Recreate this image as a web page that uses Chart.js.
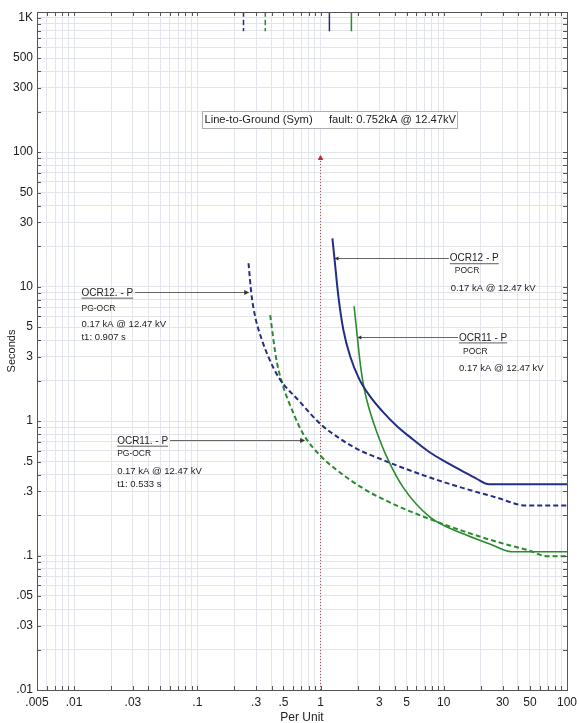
<!DOCTYPE html>
<html>
<head>
<meta charset="utf-8">
<script src="https://cdn.jsdelivr.net/npm/chart.js@4.4.1/dist/chart.umd.min.js"></script>
<style>
  html, body { margin: 0; padding: 0; background: #fff; }
  #wrap { width: 579px; height: 723px; }
</style>
</head>
<body>
<div id="wrap"><canvas id="tcc" width="579" height="723"></canvas></div>
<script>
// Curvas (per unit / segundos)
const ocr12PocrPU  = [1.248, 1.297, 1.397, 1.534, 1.738, 2.066, 2.523, 3.234, 4.153, 5.628, 7.73, 10.61, 14.39, 18.24, 23.37, 100];
const ocr12PocrSec = [22.8, 16.2, 8.38, 4.73, 3.03, 2.042, 1.525, 1.159, 0.919, 0.7293, 0.5834, 0.4914, 0.4212, 0.3748, 0.3387, 0.3387];

const ocr11PocrPU  = [1.872, 1.991, 2.113, 2.256, 2.476, 2.821, 3.446, 4.697, 7.73, 14.39, 23.66, 35.49, 100];
const ocr11PocrSec = [7.14, 4.169, 2.552, 1.750, 1.241, 0.8568, 0.5410, 0.3195, 0.1929, 0.1449, 0.1218, 0.1066, 0.1066];

const ocr12PgPU  = [0.2604, 0.274, 0.295, 0.335, 0.378, 0.456, 0.6834, 0.993, 1.442, 2.094, 3.04, 4.153, 7.73, 14.4, 26.8, 47.0, 100];
const ocr12PgSec = [14.9, 8.98, 5.95, 3.99, 2.99, 2.12, 1.383, 0.955, 0.738, 0.604, 0.524, 0.467, 0.380, 0.317, 0.270, 0.235, 0.235];

const ocr11PgPU  = [0.3905, 0.415, 0.4424, 0.4858, 0.6031, 0.7268, 0.993, 1.356, 2.227, 4.153, 7.73, 14.4, 26.8, 49.9, 68.2, 100];
const ocr11PgSec = [6.12, 3.99, 2.734, 1.939, 1.139, 0.795, 0.554, 0.432, 0.3147, 0.235, 0.1864, 0.1518, 0.1267, 0.1086, 0.0988, 0.0988];

// marcas de arranque arriba del gráfico
const pickupPU = [0.237, 0.356, 1.18, 1.78];
const pickupTop = 1100;
const pickupBottom = 790;

// línea de falla
const faultPU = 1;
const faultSec = [0.01, 90];

// ejes
const xLabelValues = [0.005, 0.01, 0.03, 0.1, 0.3, 0.5, 1, 3, 5, 10, 30, 50, 100];
const xLabelTexts  = ['.005', '.01', '.03', '.1', '.3', '.5', '1', '3', '5', '10', '30', '50', '100'];
const yLabelValues = [0.01, 0.03, 0.05, 0.1, 0.3, 0.5, 1, 3, 5, 10, 30, 50, 100, 300, 500, 1000];
const yLabelTexts  = ['.01', '.03', '.05', '.1', '.3', '.5', '1', '3', '5', '10', '30', '50', '100', '300', '500', '1K'];

const NAVY = '#242d85';
const GREEN = '#2b8a2e';
const FONT = '"Liberation Sans", Arial, sans-serif';

function gridValues(minExp, maxExp, min, max) {
    const vals = [];
    for (let e = minExp; e <= maxExp; e++) {
        for (let m = 1; m <= 9; m++) {
            const v = parseFloat((m * Math.pow(10, e)).toPrecision(6));
            if (v >= min * 0.999 && v <= max * 1.001) vals.push(v);
        }
    }
    return vals;
}
const xGrid = gridValues(-3, 2, 0.005, 100);
const yGrid = gridValues(-2, 3, 0.01, 1000);

function labelFor(values, texts, v) {
    for (let i = 0; i < values.length; i++) {
        if (Math.abs(v / values[i] - 1) < 1e-6) return texts[i];
    }
    return '';
}

function curve(pu, sec) {
    return pu.map((p, i) => ({ x: p, y: sec[i] }));
}

// Etiquetas de los relés
const labels = [
    { title: 'OCR12 - P', sub: 'POCR', lines: ['0.17 kA @ 12.47 kV'], at: [11.2, 16.1], target: 1.297, side: 'right',
      subDx: 5, lineDx: 1, offsets: [12, 30] },
    { title: 'OCR11 - P', sub: 'POCR', lines: ['0.17 kA @ 12.47 kV'], at: [13.3, 4.15], target: 1.99, side: 'right',
      subDx: 4, lineDx: 0, offsets: [13.5, 30] },
    { title: 'OCR12. - P', sub: 'PG-OCR', lines: ['0.17 kA @ 12.47 kV', 't1: 0.907 s'], at: [0.01148, 8.93], target: 0.264, side: 'left',
      subDx: 0, lineDx: 0, offsets: [16, 31, 44] },
    { title: 'OCR11. - P', sub: 'PG-OCR', lines: ['0.17 kA @ 12.47 kV', 't1: 0.533 s'], at: [0.02235, 0.708], target: 0.75, side: 'left',
      subDx: 0, lineDx: 0, offsets: [12.5, 30, 43] }
];

const faultBox = { left: 0.109, right: 12.8, y: 174, textA: 'Line-to-Ground (Sym)', textB: 'fault: 0.752kA @ 12.47kV', textBx: 1.17 };

function seg(ctx, x1, y1, x2, y2) {
    ctx.beginPath();
    ctx.moveTo(x1, y1);
    ctx.lineTo(x2, y2);
    ctx.stroke();
}

const tccPlugin = {
    id: 'tcc',
    afterDatasetsDraw(chart) {
        const ctx = chart.ctx;
        const xs = chart.scales.x, ys = chart.scales.y;
        const a = chart.chartArea;
        ctx.save();

        // marco y marcas interiores
        ctx.strokeStyle = '#555';
        ctx.lineWidth = 1;
        ctx.strokeRect(Math.round(a.left) + 0.5, Math.round(a.top) + 0.5, Math.round(a.right - a.left), Math.round(a.bottom - a.top));
        xGrid.forEach(v => {
            const px = Math.round(xs.getPixelForValue(v)) + 0.5;
            seg(ctx, px, a.bottom, px, a.bottom - 4);
            seg(ctx, px, a.top, px, a.top + 4);
        });
        yGrid.forEach(v => {
            const py = Math.round(ys.getPixelForValue(v)) + 0.5;
            seg(ctx, a.left, py, a.left + 4, py);
            seg(ctx, a.right, py, a.right - 4, py);
        });

        // recuadro de la falla
        const bx1 = xs.getPixelForValue(faultBox.left);
        const bx2 = xs.getPixelForValue(faultBox.right);
        const by = ys.getPixelForValue(faultBox.y);
        ctx.fillStyle = '#fff';
        ctx.fillRect(bx1, by - 8.5, bx2 - bx1, 17);
        ctx.strokeStyle = '#b0b0b0';
        ctx.strokeRect(Math.round(bx1) + 0.5, Math.round(by - 8.5) + 0.5, Math.round(bx2 - bx1), 17);
        ctx.fillStyle = '#222';
        ctx.font = '11.2px ' + FONT;
        ctx.textBaseline = 'middle';
        ctx.textAlign = 'left';
        ctx.fillText(faultBox.textA, bx1 + 2.5, by + 0.5);
        ctx.fillText(faultBox.textB, xs.getPixelForValue(faultBox.textBx), by + 0.5);

        // etiquetas de relés
        labels.forEach(lab => {
            const x = xs.getPixelForValue(lab.at[0]);
            const y = ys.getPixelForValue(lab.at[1]);
            const tx = xs.getPixelForValue(lab.target);
            ctx.font = '10px ' + FONT;
            ctx.fillStyle = '#222';
            ctx.fillText(lab.title, x, y);
            const w = ctx.measureText(lab.title).width;
            ctx.strokeStyle = '#333';
            ctx.lineWidth = 0.8;
            seg(ctx, x, y + 5, x + w, y + 5);

            ctx.strokeStyle = '#666';
            ctx.lineWidth = 1;
            ctx.fillStyle = '#333';
            const ly = Math.round(y) - 0.5;
            if (lab.side === 'left') {
                seg(ctx, x + w + 2, ly, tx - 4, ly);
                ctx.beginPath();
                ctx.moveTo(tx, ly);
                ctx.lineTo(tx - 5, ly - 2.5);
                ctx.lineTo(tx - 5, ly + 2.5);
                ctx.closePath();
                ctx.fill();
            } else {
                seg(ctx, tx + 3, ly, x - 1, ly);
                ctx.beginPath();
                ctx.moveTo(tx, ly);
                ctx.lineTo(tx + 4, ly - 2);
                ctx.lineTo(tx + 4, ly + 2);
                ctx.closePath();
                ctx.fill();
            }

            ctx.fillStyle = '#222';
            ctx.font = '8.5px ' + FONT;
            ctx.fillText(lab.sub, x + lab.subDx, y + lab.offsets[0]);
            ctx.font = '9.5px ' + FONT;
            lab.lines.forEach((t, i) => ctx.fillText(t, x + lab.lineDx, y + lab.offsets[i + 1]));
        });
        ctx.restore();
    }
};

function lineSet(data, color, dashed, width) {
    return {
        data: data,
        borderColor: color,
        borderWidth: width || 2,
        borderDash: dashed ? [5, 3] : [],
        pointRadius: 0,
        fill: false,
        cubicInterpolationMode: 'monotone'
    };
}

const datasets = [
    lineSet(curve(ocr12PocrPU, ocr12PocrSec), NAVY, false),
    lineSet(curve(ocr11PocrPU, ocr11PocrSec), GREEN, false, 1.6),
    lineSet(curve(ocr12PgPU, ocr12PgSec), NAVY, true),
    lineSet(curve(ocr11PgPU, ocr11PgSec), GREEN, true),
    lineSet([{ x: pickupPU[0], y: pickupTop }, { x: pickupPU[0], y: pickupBottom }], NAVY, true, 1.5),
    lineSet([{ x: pickupPU[1], y: pickupTop }, { x: pickupPU[1], y: pickupBottom }], GREEN, true, 1.5),
    lineSet([{ x: pickupPU[2], y: pickupTop }, { x: pickupPU[2], y: pickupBottom }], NAVY, false, 1.5),
    lineSet([{ x: pickupPU[3], y: pickupTop }, { x: pickupPU[3], y: pickupBottom }], GREEN, false, 1.5),
    {
        data: faultSec.map(s => ({ x: faultPU, y: s })),
        borderColor: '#9a5555',
        borderWidth: 1,
        borderDash: [1, 2],
        pointRadius: [0, 2.5],
        pointStyle: 'triangle',
        pointBackgroundColor: '#b03030',
        pointBorderColor: '#b03030',
        fill: false
    }
];

new Chart(document.getElementById('tcc'), {
    type: 'line',
    data: { datasets: datasets },
    options: {
        responsive: false,
        animation: false,
        layout: { padding: { top: 12, right: 12, left: 0, bottom: 0 } },
        plugins: { legend: { display: false }, tooltip: { enabled: false } },
        scales: {
            x: {
                type: 'logarithmic',
                min: 0.005,
                max: 100,
                afterBuildTicks: s => { s.ticks = xGrid.map(v => ({ value: v })); },
                afterFit: s => { s.height = 33; s.paddingLeft = 0; s.paddingRight = 0; },
                grid: { color: '#e2e5ec', drawTicks: false },
                border: { display: false },
                ticks: {
                    autoSkip: false,
                    maxRotation: 0,
                    padding: 5,
                    color: '#222',
                    font: { family: FONT, size: 12 },
                    callback: v => labelFor(xLabelValues, xLabelTexts, v)
                },
                title: { display: true, text: 'Per Unit', color: '#222', font: { family: FONT, size: 12 }, padding: { top: 0, bottom: -2 } }
            },
            y: {
                type: 'logarithmic',
                min: 0.01,
                max: 1100,
                afterBuildTicks: s => { s.ticks = yGrid.map(v => ({ value: v })); },
                afterFit: s => { s.width = 37; s.paddingTop = 0; s.paddingBottom = 0; },
                grid: { color: '#e2e5ec', drawTicks: false },
                border: { display: false },
                ticks: {
                    autoSkip: false,
                    padding: 4,
                    color: '#222',
                    font: { family: FONT, size: 12 },
                    callback: v => labelFor(yLabelValues, yLabelTexts, v)
                },
                title: { display: true, text: 'Seconds', color: '#222', font: { family: FONT, size: 11 }, padding: { top: 5, bottom: 0 } }
            }
        }
    },
    plugins: [tccPlugin]
});
</script>
</body>
</html>
